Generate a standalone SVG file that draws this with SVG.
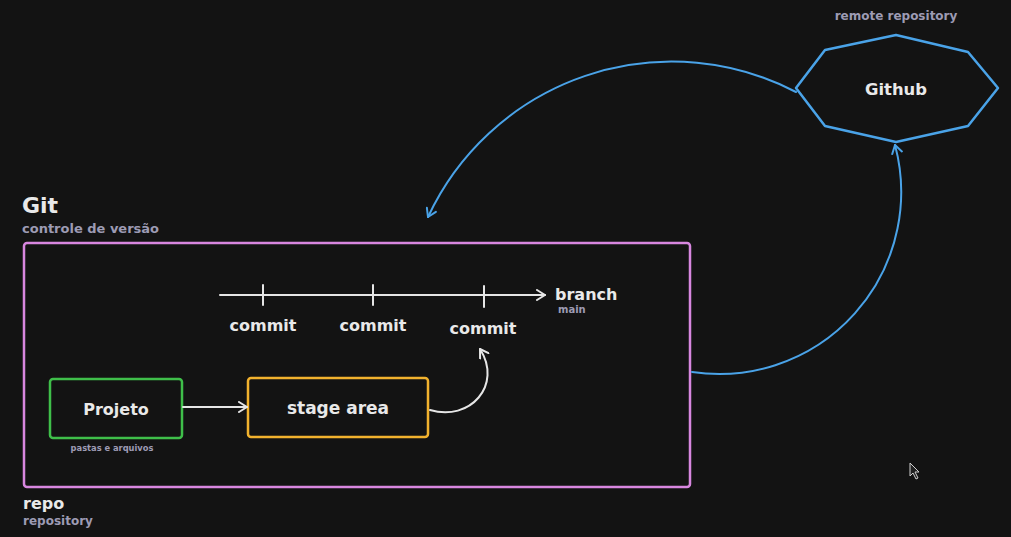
<svg xmlns="http://www.w3.org/2000/svg" width="1011" height="537" viewBox="0 0 1011 537">
<defs>
<style>
.t{font-family:"DejaVu Sans","Noto Sans",sans-serif;fill:#e9e9e9;font-weight:bold}
.s{font-family:"DejaVu Sans","Noto Sans",sans-serif;fill:#9d9bb3;font-weight:bold}
.w{stroke:#e6e6e6;stroke-width:2;fill:none;stroke-linecap:round}
.b{stroke:#4aa3e8;stroke-width:2;fill:none;stroke-linecap:round}
</style>
<marker id="aw" markerWidth="12" markerHeight="12" refX="10" refY="6" orient="auto" markerUnits="userSpaceOnUse">
<path d="M2,1 L10,6 L2,11" fill="none" stroke="#e6e6e6" stroke-width="2" stroke-linecap="round" stroke-linejoin="round"/>
</marker>
<marker id="ab" markerWidth="12" markerHeight="12" refX="10" refY="6" orient="auto" markerUnits="userSpaceOnUse">
<path d="M2,1 L10,6 L2,11" fill="none" stroke="#4aa3e8" stroke-width="2" stroke-linecap="round" stroke-linejoin="round"/>
</marker>
</defs>
<rect width="1011" height="537" fill="#131313"/>

<g id="git-repo">
<rect x="24" y="243" width="666" height="244" rx="3" fill="none" stroke="#d887e0" stroke-width="2.5"/>
<text class="t" x="22" y="213" font-size="22">Git</text>
<text class="s" x="22" y="233" font-size="13">controle de versão</text>
<text class="t" x="23" y="509" font-size="16">repo</text>
<text class="s" x="23" y="525" font-size="12">repository</text>
</g>

<g id="branch">
<text class="t" x="555" y="300" font-size="16">branch</text>
<text class="s" x="558" y="313" font-size="10">main</text>
</g>

<g id="commit1">
<line class="w" x1="263" y1="285" x2="263" y2="305"/>
<text class="t" x="263" y="331" font-size="16" text-anchor="middle">commit</text>
</g>
<g id="commit2">
<line class="w" x1="373" y1="285" x2="373" y2="305"/>
<text class="t" x="373" y="331" font-size="16" text-anchor="middle">commit</text>
</g>
<g id="commit3">
<line class="w" x1="484" y1="286" x2="484" y2="307"/>
<text class="t" x="483" y="334" font-size="16" text-anchor="middle">commit</text>
</g>

<g id="projeto">
<rect x="50" y="379" width="132" height="59" rx="3" fill="none" stroke="#3fbf4a" stroke-width="2.5"/>
<text class="t" x="116" y="415" font-size="16" text-anchor="middle">Projeto</text>
<text class="s" x="112" y="451" font-size="8.3" text-anchor="middle">pastas e arquivos</text>
</g>

<g id="stage-area">
<rect x="248" y="378" width="180" height="59" rx="3" fill="none" stroke="#f2b22e" stroke-width="2.5"/>
<text class="t" x="338" y="414" font-size="17" text-anchor="middle">stage area</text>
</g>

<g id="github">
<polygon points="796,88 825,50 896,35 968,52 998,88 968,126 896,142 825,126" fill="none" stroke="#4aa3e8" stroke-width="2.5" stroke-linejoin="round"/>
<text class="t" x="896" y="95" font-size="16.4" text-anchor="middle">Github</text>
<text class="s" x="896" y="20" font-size="12" text-anchor="middle">remote repository</text>
</g>

<g id="connectors">
<line class="w" x1="220" y1="295" x2="545" y2="295" marker-end="url(#aw)"/>
<line class="w" x1="183" y1="407" x2="247" y2="407" marker-end="url(#aw)"/>
<path class="w" d="M430,410 C470,422 503,385 480,349" marker-end="url(#aw)"/>
<path class="b" d="M796,92 A269,269 0 0 0 428,217" marker-end="url(#ab)"/>
<path class="b" d="M692,372 A182,182 0 0 0 895,145" marker-end="url(#ab)"/>
</g>

<polygon points="910,463 910,476 913,473 916,479 918,478 915,472 919,472" fill="#222" stroke="#cfcfcf" stroke-width="1"/>
</svg>
